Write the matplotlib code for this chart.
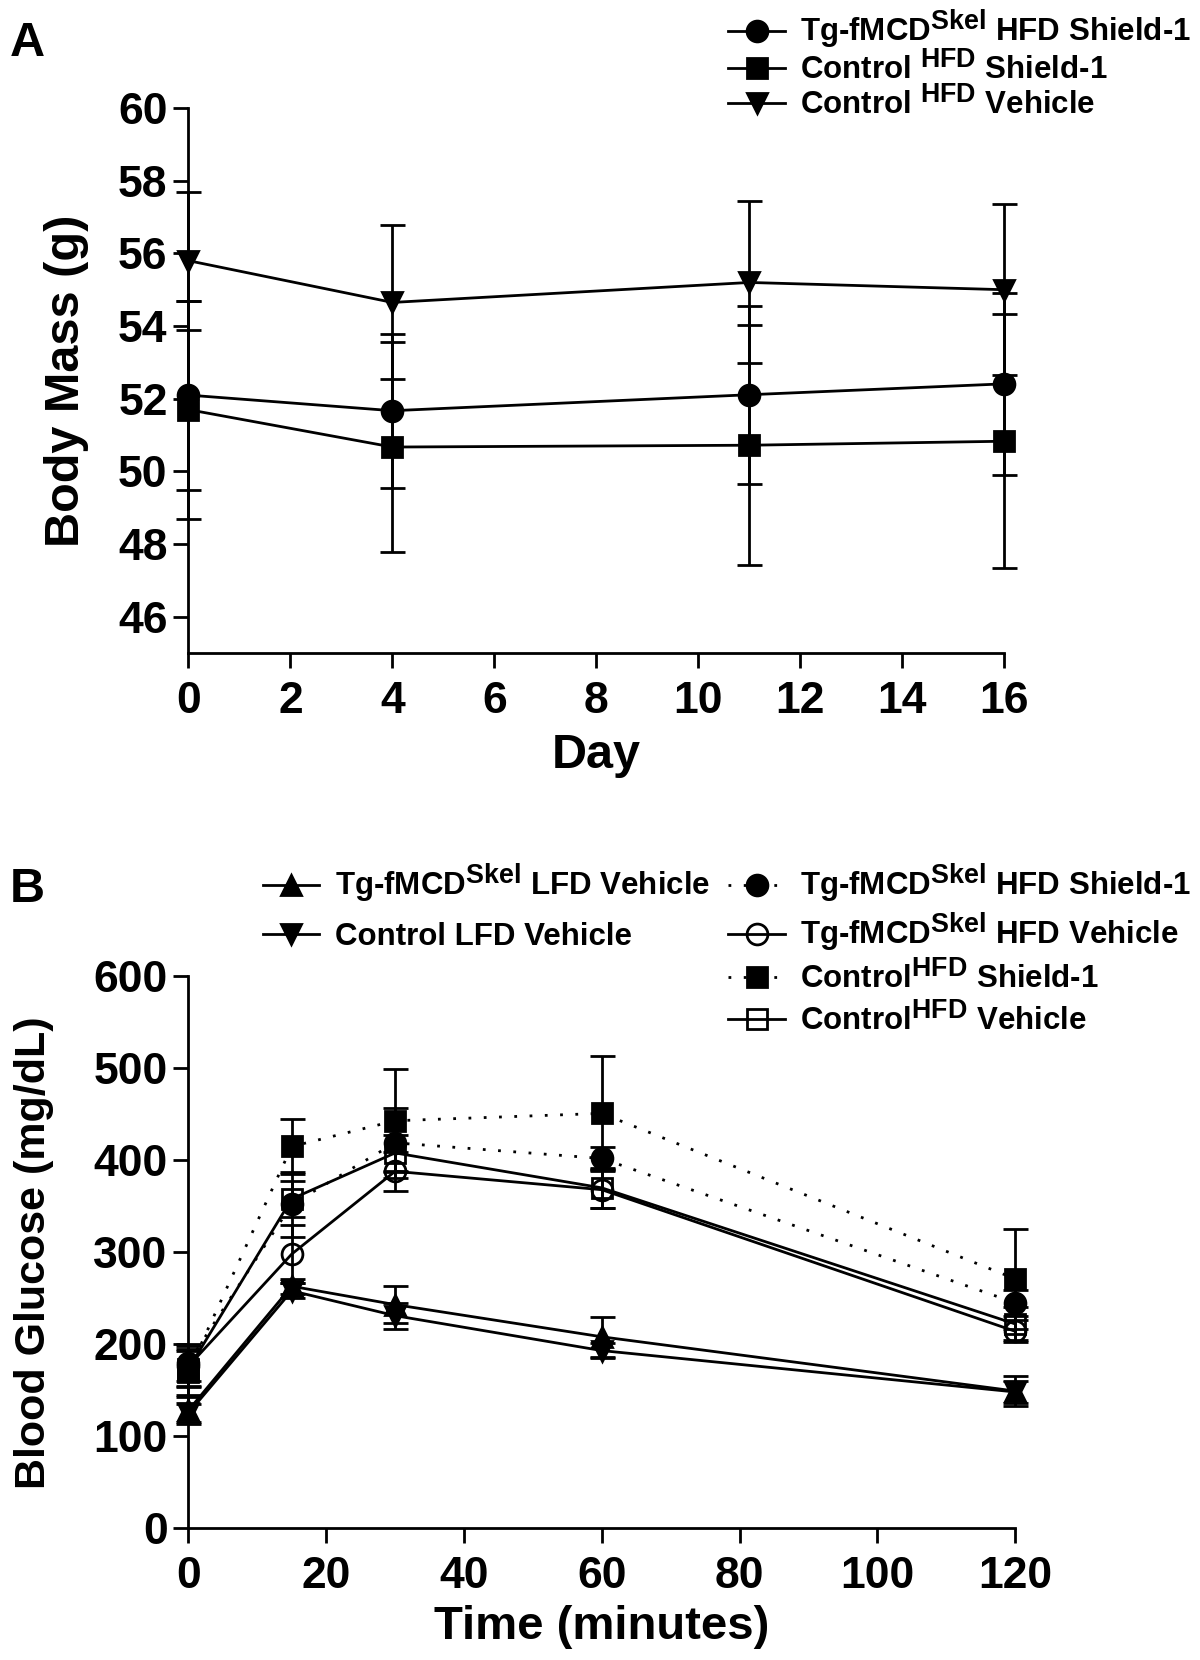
import matplotlib
matplotlib.use('Agg')
import matplotlib.pyplot as plt

# superscripts in the original legend are nearly full size
try:
    import matplotlib._mathtext as _mt
    _mt.SHRINK_FACTOR = 0.86
except Exception:
    pass

plt.rcParams['font.family'] = ['Liberation Sans', 'DejaVu Sans']
plt.rcParams['font.weight'] = 'bold'
plt.rcParams['mathtext.fontset'] = 'custom'
plt.rcParams['mathtext.rm'] = 'Liberation Sans:bold'
plt.rcParams['mathtext.bf'] = 'Liberation Sans:bold'
plt.rcParams['mathtext.it'] = 'Liberation Sans:bold'

# Panel A: body mass over days
days = [0, 4, 11, 16]
a_tg_shield = [52.1, 51.67, 52.11, 52.41]
a_tg_shield_sd = [2.6, 2.12, 2.45, 2.5]
a_ctrl_shield = [51.7, 50.67, 50.72, 50.83]
a_ctrl_shield_sd = [3.0, 2.9, 3.3, 3.5]
a_ctrl_vehicle = [55.8, 54.65, 55.2, 55.0]
a_ctrl_vehicle_sd = [1.9, 2.12, 2.23, 2.35]
a_labels = [r'Tg-fMCD$^{\rm Skel}$ HFD Shield-1',
            r'Control $^{\rm HFD}$ Shield-1',
            r'Control $^{\rm HFD}$ Vehicle']

# Panel B: glucose tolerance
minutes = [0, 15, 30, 60, 120]
b_tg_lfd_veh = [128, 263, 243, 208, 149]
b_tg_lfd_veh_sd = [15, 8, 20, 22, 16]
b_ctrl_lfd_veh = [125, 258, 231, 193, 148]
b_ctrl_lfd_veh_sd = [10, 8, 14, 8, 12]
b_tg_hfd_shield = [180, 352, 419, 402, 245]
b_tg_hfd_shield_sd = [20, 35, 38, 12, 14]
b_tg_hfd_veh = [176, 298, 388, 368, 214]
b_tg_hfd_veh_sd = [22, 32, 21, 20, 12]
b_ctrl_hfd_shield = [170, 415, 443, 451, 271]
b_ctrl_hfd_shield_sd = [25, 30, 56, 62, 54]
b_ctrl_hfd_veh = [173, 358, 408, 370, 222]
b_ctrl_hfd_veh_sd = [20, 20, 20, 22, 18]
b_labels_left = [r'Tg-fMCD$^{\rm Skel}$ LFD Vehicle', 'Control LFD Vehicle']
b_labels_right = [r'Tg-fMCD$^{\rm Skel}$ HFD Shield-1',
                  r'Tg-fMCD$^{\rm Skel}$ HFD Vehicle',
                  r'Control$^{\rm HFD}$ Shield-1',
                  r'Control$^{\rm HFD}$ Vehicle']

TICK_FS = 32
LEG_FS = 22.5
DOTTED = (0, (1, 4.5))

fig = plt.figure(figsize=(12, 16.6), dpi=100)
ax_a = fig.add_axes([0.157, 0.6066, 0.680, 0.3283])
ax_b = fig.add_axes([0.157, 0.0795, 0.689, 0.3323])


def style_axes(ax):
    for side in ('top', 'right'):
        ax.spines[side].set_visible(False)
    for side in ('left', 'bottom'):
        ax.spines[side].set_linewidth(2)
    ax.tick_params(width=2, length=11, labelsize=TICK_FS, pad=4)
    ax.tick_params(axis='x', pad=9)
    for lab in ax.get_xticklabels() + ax.get_yticklabels():
        lab.set_fontweight('bold')


def draw(ax, x, y, err, marker, ls='-', filled=True, ms=15):
    cont = ax.errorbar(x, y, yerr=err, color='black', marker=marker, ls=ls,
                       lw=2, ms=ms, mfc='black' if filled else 'none',
                       mec='black', mew=2, capsize=9, capthick=2, elinewidth=2,
                       clip_on=False, zorder=3)
    for art in cont.lines[1] + cont.lines[2]:
        art.set_clip_on(False)
    return cont.lines[0]


# ---- Panel A ----
h1 = draw(ax_a, days, a_tg_shield, a_tg_shield_sd, 'o')
h2 = draw(ax_a, days, a_ctrl_shield, a_ctrl_shield_sd, 's', ms=14)
h3 = draw(ax_a, days, a_ctrl_vehicle, a_ctrl_vehicle_sd, 'v')
ax_a.set_xlim(0, 16)
ax_a.set_ylim(45, 60)
ax_a.set_xticks(range(0, 17, 2))
ax_a.set_yticks(range(46, 61, 2))
style_axes(ax_a)
ax_a.set_xlabel('Day', fontsize=35, fontweight='bold', labelpad=8)
ax_a.set_ylabel('Body Mass (g)', fontsize=35, fontweight='bold', labelpad=21)
fig.legend([h1, h2, h3], a_labels, loc='upper left', bbox_to_anchor=(0.607, 0.995),
           frameon=False, fontsize=LEG_FS, handlelength=1.8, handletextpad=0.5,
           labelspacing=0.0, borderpad=0, borderaxespad=0)

# ---- Panel B ----
g1 = draw(ax_b, minutes, b_tg_lfd_veh, b_tg_lfd_veh_sd, '^')
g2 = draw(ax_b, minutes, b_ctrl_lfd_veh, b_ctrl_lfd_veh_sd, 'v')
g3 = draw(ax_b, minutes, b_tg_hfd_shield, b_tg_hfd_shield_sd, 'o', ls=DOTTED)
g4 = draw(ax_b, minutes, b_tg_hfd_veh, b_tg_hfd_veh_sd, 'o', filled=False)
g5 = draw(ax_b, minutes, b_ctrl_hfd_shield, b_ctrl_hfd_shield_sd, 's', ls=DOTTED, ms=14)
g6 = draw(ax_b, minutes, b_ctrl_hfd_veh, b_ctrl_hfd_veh_sd, 's', filled=False, ms=14)
ax_b.set_xlim(0, 120)
ax_b.set_ylim(0, 600)
ax_b.set_xticks(range(0, 121, 20))
ax_b.set_yticks(range(0, 601, 100))
style_axes(ax_b)
ax_b.set_xlabel('Time (minutes)', fontsize=34, fontweight='bold', labelpad=6)
ax_b.set_ylabel('Blood Glucose (mg/dL)', fontsize=31, fontweight='bold', labelpad=28)
fig.legend([g1, g2], b_labels_left, loc='upper left', bbox_to_anchor=(0.219, 0.481),
           frameon=False, fontsize=LEG_FS, handlelength=1.8, handletextpad=0.5,
           labelspacing=0.55, borderpad=0, borderaxespad=0)
fig.legend([g3, g4, g5, g6], b_labels_right, loc='upper left', bbox_to_anchor=(0.607, 0.481),
           frameon=False, fontsize=LEG_FS, handlelength=1.8, handletextpad=0.5,
           labelspacing=0.2, borderpad=0, borderaxespad=0)

fig.text(0.008, 0.974, 'A', fontsize=35, fontweight='bold', va='center')
fig.text(0.008, 0.464, 'B', fontsize=35, fontweight='bold', va='center')

fig.savefig('out.png', dpi=100)
